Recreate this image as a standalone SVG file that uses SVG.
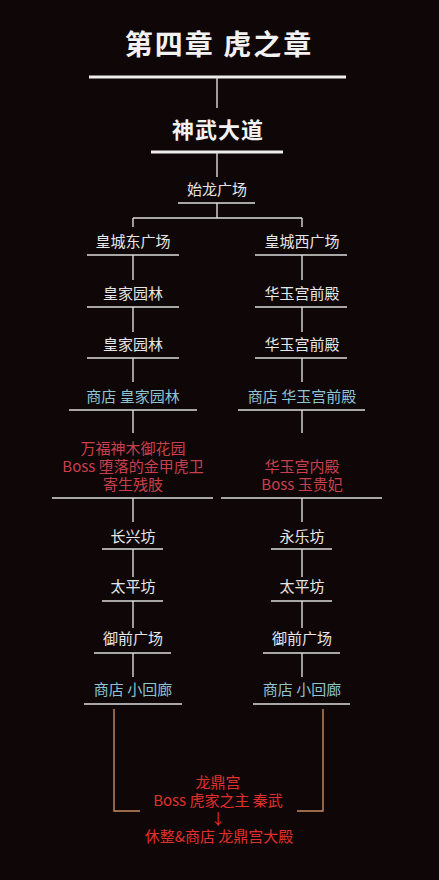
<svg xmlns="http://www.w3.org/2000/svg" width="439" height="880" viewBox="0 0 439 880">
<style>
text{font-family:"Noto Sans CJK SC","Noto Sans",sans-serif;text-anchor:middle;font-size:15px;fill:#e6e6e6}
.t1{font-size:28px;font-weight:bold;letter-spacing:2px;fill:#f2f2f2}
.t2{font-size:22px;font-weight:bold;letter-spacing:1px;fill:#f2f2f2}
.shop{fill:#8ec3d2}
.boss{fill:#c8404c}
.final{fill:#e0302c}
.thick{stroke:#eeeeee;stroke-width:3;fill:none}
.bar{stroke:#dddddd;stroke-width:1.6;fill:none}
.v{stroke:#dddddd;stroke-width:1.4;fill:none}
.br{stroke:#c98a5e;stroke-width:1.4;fill:none}
</style>
<rect width="439" height="880" fill="#0f0608"/>
<g id="connectors">
<line class="thick" x1="89" y1="77" x2="346" y2="77"/>
<line class="v" x1="217" y1="77" x2="217" y2="108"/>
<line class="thick" x1="151" y1="152" x2="283" y2="152"/>
<line class="v" x1="217" y1="152" x2="217" y2="177"/>
<line class="bar" x1="178" y1="203" x2="255" y2="203"/>
<line class="v" x1="217" y1="203" x2="217" y2="218"/>
<line class="v" x1="133" y1="218" x2="302" y2="218"/>
<line class="v" x1="133" y1="218" x2="133" y2="227"/>
<line class="v" x1="302" y1="218" x2="302" y2="227"/>
<line class="bar" x1="87" y1="255" x2="179" y2="255"/>
<line class="bar" x1="255" y1="255" x2="347" y2="255"/>
<line class="v" x1="133" y1="255" x2="133" y2="280"/>
<line class="v" x1="302" y1="255" x2="302" y2="280"/>
<line class="bar" x1="87" y1="307" x2="179" y2="307"/>
<line class="bar" x1="255" y1="307" x2="347" y2="307"/>
<line class="v" x1="133" y1="307" x2="133" y2="332"/>
<line class="v" x1="302" y1="307" x2="302" y2="332"/>
<line class="bar" x1="87" y1="358" x2="179" y2="358"/>
<line class="bar" x1="255" y1="358" x2="347" y2="358"/>
<line class="v" x1="133" y1="358" x2="133" y2="382"/>
<line class="v" x1="302" y1="358" x2="302" y2="382"/>
<line class="bar" x1="69" y1="410" x2="197" y2="410"/>
<line class="bar" x1="238" y1="410" x2="365" y2="410"/>
<line class="v" x1="133" y1="410" x2="133" y2="433"/>
<line class="v" x1="302" y1="410" x2="302" y2="433"/>
<line class="bar" x1="52" y1="498" x2="213" y2="498"/>
<line class="bar" x1="221" y1="498" x2="382" y2="498"/>
<line class="v" x1="133" y1="498" x2="133" y2="522"/>
<line class="v" x1="302" y1="498" x2="302" y2="522"/>
<line class="bar" x1="102" y1="549" x2="163" y2="549"/>
<line class="bar" x1="271" y1="549" x2="332" y2="549"/>
<line class="v" x1="133" y1="549" x2="133" y2="577"/>
<line class="v" x1="302" y1="549" x2="302" y2="577"/>
<line class="bar" x1="102" y1="601" x2="163" y2="601"/>
<line class="bar" x1="271" y1="601" x2="332" y2="601"/>
<line class="v" x1="133" y1="601" x2="133" y2="628"/>
<line class="v" x1="302" y1="601" x2="302" y2="628"/>
<line class="bar" x1="94" y1="653" x2="171" y2="653"/>
<line class="bar" x1="263" y1="653" x2="340" y2="653"/>
<line class="v" x1="133" y1="653" x2="133" y2="677"/>
<line class="v" x1="302" y1="653" x2="302" y2="677"/>
<line class="bar" x1="84" y1="704" x2="182" y2="704"/>
<line class="bar" x1="253" y1="704" x2="350" y2="704"/>
<polyline class="br" points="114,709 114,811 140,811"/>
<polyline class="br" points="323,709 323,811 297,811"/>
</g>
<g id="title"><text class="t1" x="219" y="55">第四章 虎之章</text></g>
<g id="shenwu"><text class="t2" x="218" y="138">神武大道</text></g>
<g id="shilong"><text x="217" y="195">始龙广场</text></g>
<g id="l1"><text x="133" y="247">皇城东广场</text></g>
<g id="r1"><text x="302" y="247">皇城西广场</text></g>
<g id="l2"><text x="133" y="299">皇家园林</text></g>
<g id="r2"><text x="302" y="299">华玉宫前殿</text></g>
<g id="l3"><text x="133" y="350">皇家园林</text></g>
<g id="r3"><text x="302" y="350">华玉宫前殿</text></g>
<g id="l4"><text class="shop" x="133" y="402">商店 皇家园林</text></g>
<g id="r4"><text class="shop" x="302" y="402">商店 华玉宫前殿</text></g>
<g id="l5"><text class="boss" x="133" y="454">万福神木御花园</text><text class="boss" x="133" y="472">Boss 堕落的金甲虎卫</text><text class="boss" x="133" y="490">寄生残肢</text></g>
<g id="r5"><text class="boss" x="302" y="472">华玉宫内殿</text><text class="boss" x="302" y="490">Boss 玉贵妃</text></g>
<g id="l6"><text x="133" y="542">长兴坊</text></g>
<g id="r6"><text x="302" y="542">永乐坊</text></g>
<g id="l7"><text x="133" y="592">太平坊</text></g>
<g id="r7"><text x="302" y="592">太平坊</text></g>
<g id="l8"><text x="133" y="644">御前广场</text></g>
<g id="r8"><text x="302" y="644">御前广场</text></g>
<g id="l9"><text class="shop" x="133" y="695">商店 小回廊</text></g>
<g id="r9"><text class="shop" x="302" y="695">商店 小回廊</text></g>
<g id="final"><text class="final" x="218" y="788">龙鼎宫</text><text class="final" x="218" y="806">Boss 虎家之主 秦武</text><text class="final" x="218" y="824">↓</text><text class="final" x="219" y="842">休整&amp;商店 龙鼎宫大殿</text></g>
</svg>
